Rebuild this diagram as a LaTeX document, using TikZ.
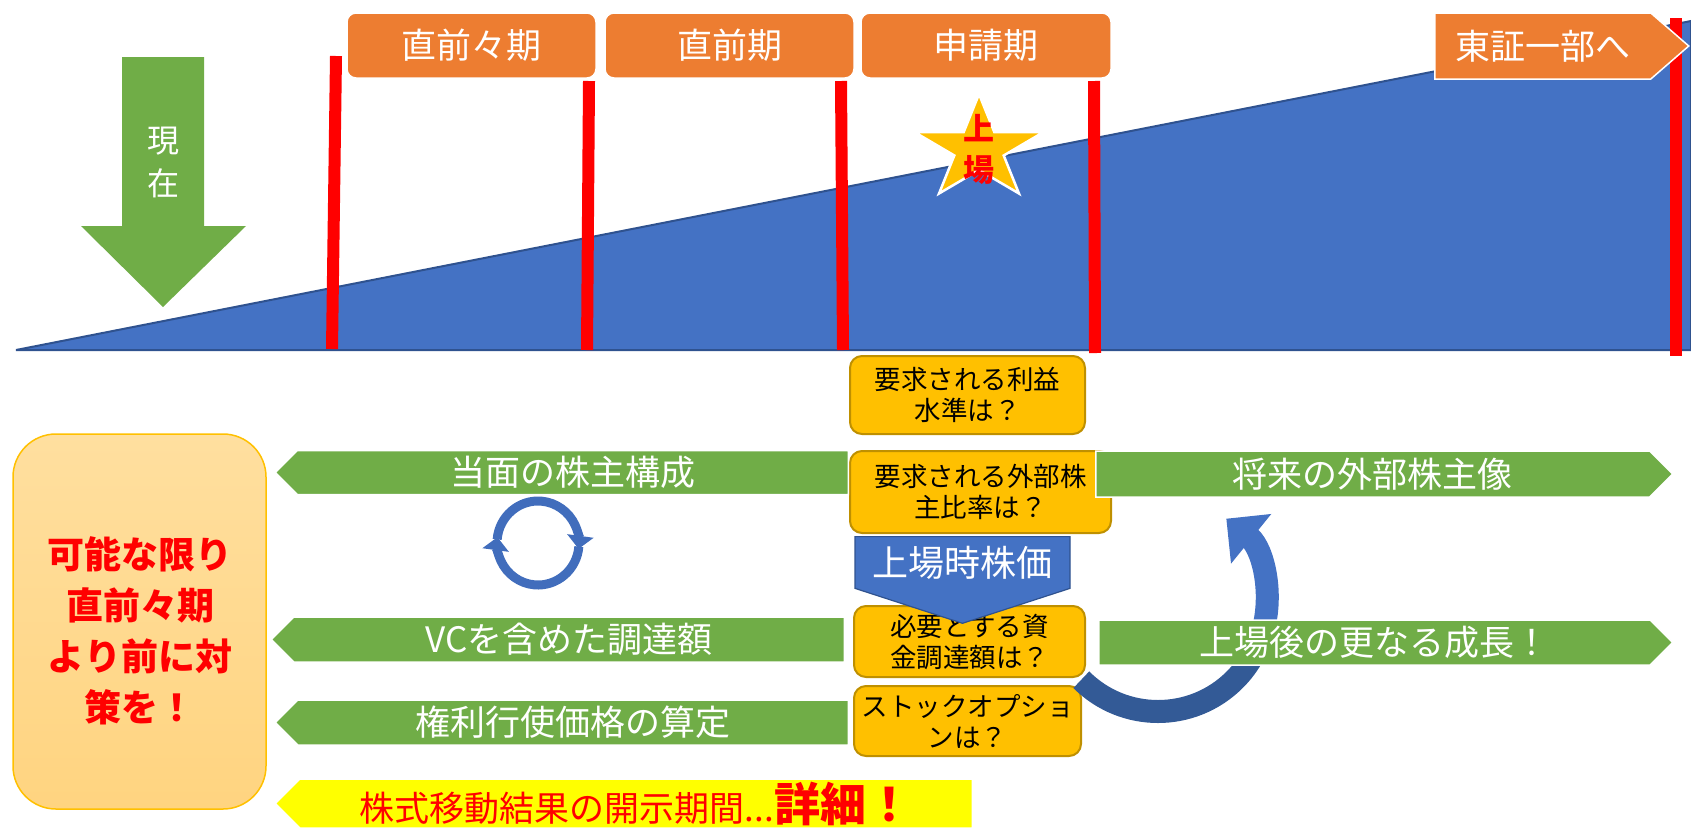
\documentclass[tikz,border=0pt]{standalone}
\usepackage{fontspec}
\setmainfont{Noto Sans CJK JP}
\usetikzlibrary{shapes.symbols,arrows.meta}

\definecolor{ppOrange}{HTML}{ED7D31}
\definecolor{ppGreen}{HTML}{70AD47}
\definecolor{ppBlue}{HTML}{4472C4}
\definecolor{ppBlueDark}{HTML}{2F528F}
\definecolor{ppNavy}{HTML}{335A96}
\definecolor{ppGold}{HTML}{FFC000}
\definecolor{ppGoldDark}{HTML}{BF9000}
\definecolor{ppRed}{HTML}{FF0000}
\definecolor{ppYellow}{HTML}{FFFF00}
\definecolor{ppPaleTop}{HTML}{FFDF9F}
\definecolor{ppPaleBot}{HTML}{FFD480}

\begin{document}
\begin{tikzpicture}[x=1pt,y=-1pt]
\tikzset{period/.style={rectangle, rounded corners=9pt, fill=ppOrange, draw=white, line width=1.5pt, text=white, font=\fontsize{35}{40}\selectfont, minimum width=249pt, minimum height=65pt, inner sep=0pt}}
\tikzset{redbar/.style={draw=ppRed, line width=12pt}}
\tikzset{question/.style={rectangle, rounded corners=12pt, fill=ppGold, draw=ppGoldDark, line width=2pt, align=center, font=\fontsize{26.5}{31}\selectfont, inner sep=0pt}}
\tikzset{toleft/.style={signal, signal to=west, signal pointer angle=90, fill=ppGreen, draw=white, line width=1.5pt, text=white, font=\fontsize{35}{40}\selectfont, minimum height=44pt, inner sep=0pt}}
\tikzset{toright/.style={toleft, signal to=east}}
\tikzset{looparrow/.style={draw=ppBlue!85!ppBlueDark, line width=9pt, -{Triangle[width=26pt,length=13pt]}}}
\useasboundingbox (0,0) rectangle (1691,836);

% rising slope
\filldraw[fill=ppBlue, draw=ppBlueDark, line width=2pt] (16,350) -- (1691,21) -- (1691,350) -- cycle;

% period borders
\draw[redbar] (336,56) -- (332,349);
\draw[redbar] (589,81) -- (587,350);
\draw[redbar] (841,81) -- (843,350);
\draw[redbar] (1094,81) -- (1095,353);
\draw[redbar] (1676,18) -- (1676,356);

% periods
\node[period] (pre2) at (471.5,45.5) {直前々期};
\node[period] (pre1) at (729.5,45.5) {直前期};
\node[period, minimum width=250pt] (apply) at (986,45.5) {申請期};
\node[period, signal, signal to=east, signal pointer angle=82, sharp corners, minimum width=254pt, minimum height=66pt, anchor=west] (tse) at (1434,46) {東証一部へ};

% now
\fill[ppGreen] (122,57) -- (204,57) -- (204,226) -- (246,226) -- (163,307) -- (81,226) -- (122,226) -- cycle;
\node[text=white, font=\fontsize{32}{43}\selectfont, align=center] (now) at (163,162) {現\\在};

% listing star
\begin{scope}[shift={(979,149)}, x=68pt, y=55pt]
\filldraw[fill=ppGold, draw=white, line width=2.5pt] (90:1) -- (126:.382) -- (162:1) -- (198:.382) -- (234:1) -- (270:.382) -- (306:1) -- (342:.382) -- (18:1) -- (54:.382) -- cycle;
\end{scope}
\node[text=ppRed, font=\bfseries\fontsize{31}{41}\selectfont, align=center] (listing) at (979,149) {上\\場};

% advice
\node[draw=ppGold, line width=1.5pt, top color=ppPaleTop, bottom color=ppPaleBot, rounded corners=43pt, minimum width=253pt, minimum height=375pt] (advice) at (139.5,621.5) {};
\node[text=ppRed, font=\bfseries\fontsize{37}{51}\selectfont, align=center] (advicetext) at (140,631) {可能な限り\\直前々期\\より前に対\\策を！};

% questions
\node[question, minimum width=235pt, minimum height=78pt] (profit) at (967.5,395) {要求される利益\\水準は？};
\node[question, minimum width=261pt, minimum height=82pt] (ratio) at (980.5,492) {要求される外部株\\主比率は？};
\node[question, minimum width=231pt, minimum height=71pt] (funds) at (969.5,641.5) {必要とする資\\金調達額は？};
\node[question, minimum width=227pt, minimum height=70pt] (option) at (967.5,721) {ストックオプショ\\ンは？};

% price
\node[signal, signal to=south, signal pointer angle=144, fill=ppBlue, draw=ppBlueDark, line width=1.2pt, text=white, font=\fontsize{36}{40}\selectfont, minimum width=215pt, minimum height=81pt, inner sep=0pt, anchor=north] (price) at (962.5,536) {上場時株価};

% cycles
\coordinate (loopc) at (538,543);
\draw[looparrow] ([shift={(5:41 and 42)}]loopc) arc[start angle=5, end angle=188, x radius=41, y radius=42];
\draw[looparrow] ([shift={(185:41 and 42)}]loopc) arc[start angle=185, end angle=368, x radius=41, y radius=42];

\coordinate (spiral) at (1158,603);
\draw[ppNavy, line width=23pt] ([shift={(135:108.5)}]spiral) arc[start angle=135, end angle=12, radius=108.5];
\draw[ppBlue, line width=23pt, -{Triangle[width=62pt,length=32pt]}] ([shift={(22:108.5)}]spiral) arc[start angle=22, end angle=-51, radius=108.5];

% measures
\node[toleft, minimum width=573pt, anchor=east] (holders) at (849,472.5) {当面の株主構成};
\node[toleft, minimum width=573pt, minimum height=45pt, anchor=east] (raise) at (845,639.5) {VCを含めた調達額};
\node[toleft, minimum width=573pt, minimum height=45pt, anchor=east] (strike) at (849,722.5) {権利行使価格の算定};
\node[toleft, fill=ppYellow, text=ppRed, minimum width=697pt, minimum height=49pt, anchor=east] (disclose) at (973,803.5) {{\fontsize{35}{40}\selectfont 株式移動結果の開示期間...}{\bfseries\fontsize{46}{48}\selectfont 詳細！}};
\node[toright, minimum width=577pt, minimum height=46pt, anchor=west] (future) at (1095,474) {将来の外部株主像};
\node[toright, minimum width=574pt, minimum height=45pt, anchor=west] (growth) at (1098,642.5) {上場後の更なる成長！};
\end{tikzpicture}
\end{document}
